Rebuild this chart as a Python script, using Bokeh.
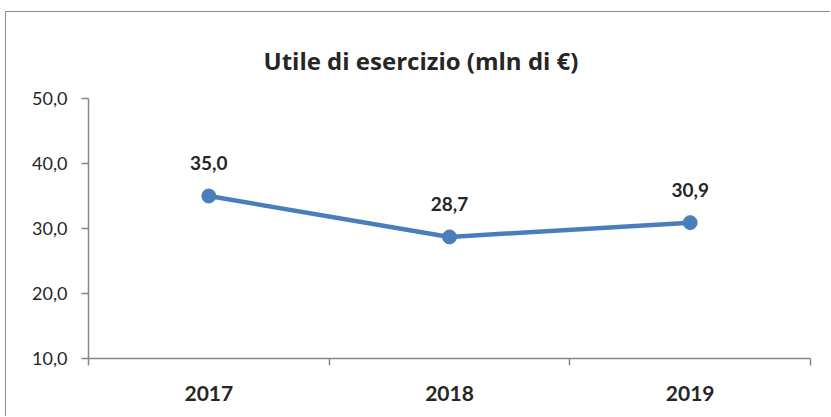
from bokeh.plotting import figure
from bokeh.models import FixedTicker, ColumnDataSource, Range1d
from bokeh.core.properties import value
from bokeh.embed import file_html
from bokeh.resources import INLINE

years = ["2017", "2018", "2019"]
utile = [35.0, 28.7, 30.9]
y_ticks = [10, 20, 30, 40, 50]
y_tick_labels = ["10,0", "20,0", "30,0", "40,0", "50,0"]
title_text = "Utile di esercizio (mln di €)"

FONT = "Lato"
BLUE = "#4A7EBB"
AXIS = "#868686"
TXT = "#262626"

xs = [i + 0.5 for i in range(len(years))]
labels = [f"{v:.1f}".replace(".", ",") for v in utile]
src = ColumnDataSource(dict(x=xs, y=utile, lab=labels))

p = figure(width=825, height=405, output_backend="svg", toolbar_location=None,
           x_range=Range1d(0, len(years)), y_range=Range1d(y_ticks[0], y_ticks[-1]),
           min_border_left=82, min_border_right=21, min_border_top=86, min_border_bottom=59,
           title=title_text)
p.styles = {"border-left": "1px solid #8c8c8c", "border-top": "1px solid #8c8c8c",
            "margin-left": "5px", "margin-top": "11px"}

p.title.align = "left"
p.title.offset = 175
p.title.vertical_align = "top"
p.title.standoff = 40
p.title.text_line_height = 1.3
p.title.text_font = "Open Sans"
p.title.text_font_size = "24px"
p.title.text_font_style = "bold"
p.title.text_color = TXT

p.outline_line_color = None
p.grid.grid_line_color = None

# x axis
p.xaxis.ticker = FixedTicker(ticks=xs, minor_ticks=list(range(len(years) + 1)))
p.xaxis.major_label_overrides = {x: y for x, y in zip(xs, years)}
p.xaxis.major_tick_line_color = None
p.xaxis.minor_tick_line_color = AXIS
p.xaxis.minor_tick_out = 7
p.xaxis.minor_tick_in = 0
p.xaxis.axis_line_color = AXIS
p.xaxis.axis_line_width = 1.5
p.xaxis.minor_tick_line_width = 1.5
p.xaxis.major_label_text_font = FONT
p.xaxis.major_label_text_font_size = "21px"
p.xaxis.major_label_text_font_style = "bold"
p.xaxis.major_label_text_color = TXT
p.xaxis.major_label_standoff = 20

# y axis
p.yaxis.ticker = FixedTicker(ticks=y_ticks, minor_ticks=[])
p.yaxis.major_label_overrides = {t: l for t, l in zip(y_ticks, y_tick_labels)}
p.yaxis.major_tick_line_color = AXIS
p.yaxis.major_tick_out = 7
p.yaxis.major_tick_in = 0
p.yaxis.major_tick_line_width = 1.5
p.yaxis.axis_line_color = AXIS
p.yaxis.axis_line_width = 1.5
p.yaxis.major_label_text_font = FONT
p.yaxis.major_label_text_font_size = "18px"
p.yaxis.major_label_text_color = TXT
p.yaxis.major_label_standoff = 14

p.line("x", "y", source=src, line_color=BLUE, line_width=4.5)
p.scatter("x", "y", source=src, size=14, fill_color=BLUE, line_color=BLUE)
p.text("x", "y", text="lab", source=src, y_offset=-33, text_align="center",
       text_baseline="middle", text_font=value(FONT), text_font_style="bold",
       text_font_size="19px", text_color=TXT)

open("out.html", "w").write(file_html(p, INLINE))
